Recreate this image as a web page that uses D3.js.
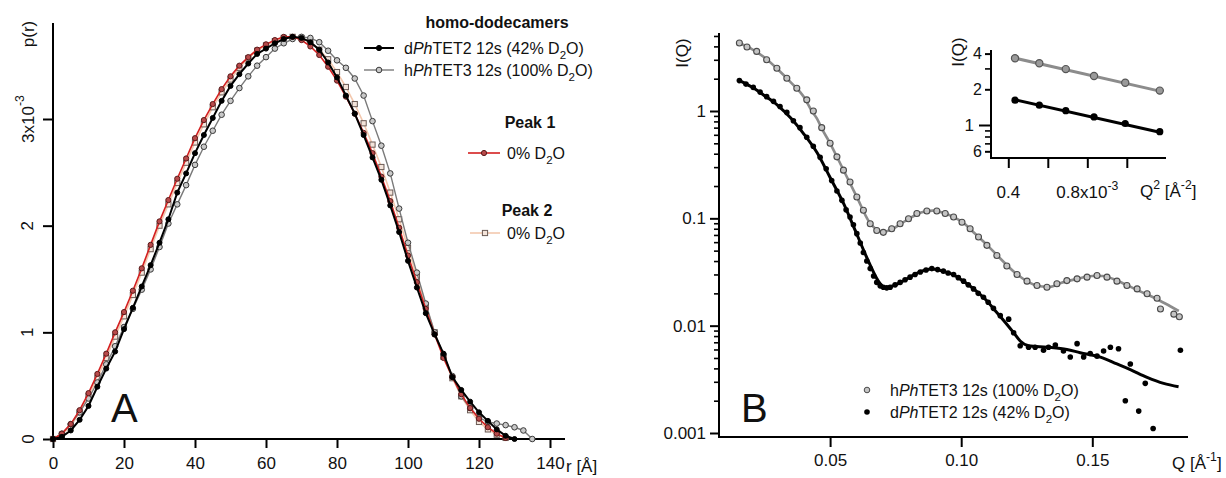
<!DOCTYPE html>
<html>
<head>
<meta charset="utf-8">
<script src="https://cdn.jsdelivr.net/npm/d3@7"></script>
<style>
  body { margin: 0; background: #fff; }
  svg { display: block; font-family: "Liberation Sans", Arial, sans-serif; }
</style>
</head>
<body>
<svg id="chart" width="1226" height="478"></svg>
<script>
// ---- panel A : p(r) ----
const rA = [0,2.5,5,7.5,10,12.5,15,17.5,20,22.5,25,27.5,30,32.5,35,37.5,40,42.5,45,47.5,50,52.5,55,57.5,60,62.5,65,67.5,70,72.5,75,77.5,80,82.5,85,87.5,90,92.5,95,97.5,100,102.5,105,107.5,110,112.5,115,117.5,120,122.5,125,127.5,130,132.5,135];
const pBlack = [0,0.02,0.08,0.18,0.31,0.49,0.66,0.82,1.03,1.23,1.43,1.63,1.84,2.06,2.31,2.49,2.68,2.85,3.01,3.17,3.31,3.42,3.52,3.61,3.66,3.71,3.75,3.77,3.76,3.72,3.65,3.53,3.39,3.22,3.05,2.85,2.64,2.43,2.19,1.94,1.67,1.42,1.18,0.98,0.80,0.58,0.46,0.35,0.25,0.17,0.09,0.03,0];
const pGray = [0,0.05,0.14,0.25,0.38,0.53,0.70,0.87,1.05,1.22,1.40,1.59,1.80,2.02,2.20,2.38,2.57,2.74,2.89,3.04,3.17,3.29,3.40,3.50,3.58,3.66,3.71,3.75,3.77,3.76,3.72,3.64,3.55,3.48,3.38,3.22,2.98,2.75,2.49,2.16,1.84,1.56,1.27,1.00,0.79,0.59,0.40,0.29,0.20,0.16,0.145,0.13,0.11,0.08,0];
const pPeak1 = [0,0.05,0.14,0.27,0.43,0.61,0.80,1.00,1.19,1.39,1.60,1.82,2.04,2.24,2.44,2.63,2.82,2.99,3.14,3.28,3.40,3.50,3.58,3.65,3.70,3.74,3.77,3.77,3.74,3.68,3.60,3.49,3.36,3.21,3.05,2.87,2.68,2.46,2.23,1.98,1.72,1.47,1.22,0.98,0.76,0.58,0.42,0.29,0.19,0.11,0.05,0.01];
const pPeak2 = [0,0.04,0.12,0.25,0.40,0.57,0.76,0.96,1.15,1.35,1.56,1.78,2.00,2.20,2.40,2.59,2.78,2.95,3.11,3.25,3.37,3.48,3.57,3.64,3.69,3.73,3.76,3.77,3.76,3.72,3.65,3.56,3.44,3.30,3.14,2.96,2.76,2.55,2.31,2.06,1.79,1.52,1.25,1.00,0.77,0.57,0.40,0.27,0.16,0.09,0.04,0.01];
const rTicks = [0,20,40,60,80,100,120,140];
const pTicks = [0,1,2,3];

// ---- panel B : I(Q) ----
const qGray = [0.0154,0.0183,0.0220,0.0258,0.0297,0.0335,0.0373,0.0411,0.0436,0.0468,0.0500,0.0526,0.0551,0.0576,0.0602,0.0627,0.0653,0.0678,0.0703,0.0735,0.0767,0.0799,0.0831,0.0869,0.0907,0.0939,0.0971,0.1003,0.1034,0.1066,0.1098,0.1136,0.1174,0.1213,0.1251,0.1289,0.1327,0.1365,0.1403,0.1442,0.1480,0.1518,0.1556,0.1594,0.1632,0.1671,0.1709,0.1747,0.1760,0.1811,0.1832];
const iGray = [4.30,3.95,3.59,3.00,2.50,2.02,1.63,1.27,1.00,0.70,0.50,0.374,0.281,0.218,0.158,0.119,0.089,0.077,0.074,0.080,0.089,0.099,0.111,0.117,0.117,0.111,0.103,0.092,0.080,0.067,0.056,0.045,0.036,0.030,0.026,0.0237,0.0228,0.0246,0.0263,0.0273,0.0283,0.0293,0.0283,0.0260,0.0237,0.0220,0.0198,0.0180,0.0143,0.0128,0.0121];
const qGrayFit = [0.0154,0.020,0.025,0.030,0.035,0.040,0.043,0.045,0.0468,0.050,0.055,0.060,0.065,0.070,0.0735,0.077,0.080,0.085,0.089,0.093,0.097,0.101,0.105,0.110,0.115,0.120,0.125,0.130,0.134,0.138,0.144,0.150,0.154,0.158,0.163,0.168,0.173,0.178,0.183];
const iGrayFit = [4.30,3.80,3.15,2.45,1.85,1.35,1.00,0.85,0.69,0.50,0.285,0.162,0.092,0.075,0.079,0.089,0.099,0.114,0.118,0.113,0.103,0.090,0.073,0.056,0.042,0.032,0.026,0.0233,0.0230,0.0250,0.0272,0.0290,0.0290,0.0272,0.0240,0.0210,0.0185,0.0160,0.0137];
const qBlack = [0.0154,0.0179,0.0207,0.0233,0.0258,0.0284,0.0309,0.0335,0.0360,0.0385,0.0411,0.0436,0.0462,0.0485,0.0506,0.0526,0.0545,0.0561,0.0576,0.0589,0.0602,0.0615,0.0627,0.0640,0.0653,0.0666,0.0678,0.0691,0.0703,0.0716,0.0729,0.0748,0.0767,0.0786,0.0805,0.0824,0.0844,0.0866,0.0888,0.0910,0.0932,0.0950,0.0971,0.0989,0.1009,0.1027,0.1047,0.1065,0.1085,0.1103,0.1123,0.1149,0.1181,0.1200,0.1225,0.1257,0.1282,0.1314,0.1333,0.1359,0.1390,0.1416,0.1442,0.1467,0.1492,0.1518,0.1543,0.1569,0.1600,0.1626,0.1645,0.1677,0.1702,0.1732,0.1836];
const iBlack = [1.92,1.78,1.66,1.50,1.36,1.23,1.10,0.97,0.81,0.70,0.57,0.47,0.37,0.29,0.225,0.18,0.147,0.120,0.103,0.087,0.072,0.059,0.048,0.040,0.034,0.029,0.0253,0.0235,0.0228,0.0225,0.0228,0.024,0.0253,0.0268,0.0283,0.030,0.0316,0.0330,0.034,0.0333,0.0322,0.031,0.030,0.028,0.026,0.024,0.022,0.020,0.0184,0.0165,0.0145,0.0124,0.0115,0.0086,0.0065,0.0063,0.0063,0.0059,0.0063,0.0066,0.0058,0.0051,0.0068,0.0051,0.0055,0.0052,0.0058,0.0063,0.0061,0.0020,0.0044,0.0016,0.0029,0.0011,0.0059];
const qBlackFit = [0.0154,0.020,0.025,0.030,0.035,0.040,0.045,0.050,0.055,0.060,0.065,0.068,0.071,0.074,0.078,0.082,0.086,0.089,0.093,0.097,0.101,0.105,0.109,0.113,0.117,0.120,0.1225,0.1257,0.1327,0.1403,0.1454,0.1531,0.1594,0.1645,0.1709,0.1772,0.1829];
const iBlackFit = [1.92,1.68,1.39,1.13,0.86,0.61,0.41,0.24,0.140,0.073,0.038,0.027,0.0226,0.0235,0.0262,0.0298,0.0328,0.0338,0.0322,0.0298,0.0258,0.0218,0.0178,0.0138,0.0106,0.0086,0.0072,0.0065,0.0063,0.0060,0.0056,0.0051,0.0044,0.0039,0.0033,0.0029,0.0027];
const qTicks = [0.05,0.10,0.15];
const iTicks = [0.001,0.01,0.1,1];

// ---- inset : Guinier ----
const q2Inset = [0.000434,0.000557,0.000691,0.000834,0.000992,0.001167];
const iInsetGray = [3.65,3.32,2.96,2.59,2.27,1.95];
const iInsetBlack = [1.62,1.47,1.32,1.17,1.03,0.878];
const q2InsetFit = [0.000434,0.001167];
const iInsetGrayFit = [3.66,1.93];
const iInsetBlackFit = [1.63,0.87];

const svg = d3.select("#chart");
const FS = 17;

// text with italic / sub / sup pieces
function rich(sel, parts, size) {
  let shift = 0;
  parts.forEach(([str, kind]) => {
    const t = sel.append("tspan").text(str);
    const target = kind === "sub" ? size * 0.3 : kind === "sup" ? -size * 0.45 : 0;
    t.attr("dy", target - shift);
    shift = target;
    if (kind === "sub" || kind === "sup") t.attr("font-size", size * 0.72);
    if (kind === "i") t.attr("font-style", "italic");
  });
  return sel;
}

// ================= panel A =================
const xA = d3.scaleLinear().domain([0, 140]).range([53, 550]);
const yA = d3.scaleLinear().domain([0, 3]).range([439, 119]);
const gA = svg.append("g");

gA.append("g").attr("transform", "translate(0,439)")
  .call(d3.axisBottom(xA).tickValues(rTicks).tickSize(9).tickFormat(d3.format("d")))
  .call(g => g.select(".domain").remove())
  .call(g => g.selectAll("line").attr("stroke", "#000").attr("stroke-width", 2))
  .call(g => g.selectAll("text").attr("font-size", FS).attr("fill", "#111").attr("dy", "1.05em"));
gA.append("g").attr("transform", "translate(53,0)")
  .call(d3.axisLeft(yA).tickValues(pTicks).tickSize(10).tickFormat(""))
  .call(g => g.select(".domain").remove())
  .call(g => g.selectAll("line").attr("stroke", "#000").attr("stroke-width", 2));
gA.append("line").attr("x1", 53).attr("x2", 565).attr("y1", 439).attr("y2", 439).attr("stroke", "#000").attr("stroke-width", 2);
gA.append("line").attr("x1", 53).attr("x2", 53).attr("y1", 440).attr("y2", 23).attr("stroke", "#000").attr("stroke-width", 2);

// rotated y labels
pTicks.forEach(v => {
  const t = gA.append("text").attr("x", 28).attr("y", yA(v)).attr("text-anchor", "middle")
    .attr("dominant-baseline", "central").attr("font-size", FS).attr("fill", "#111")
    .attr("transform", `rotate(-90,28,${yA(v)})`);
  if (v === 3) rich(t, [["3x10"], ["-3", "sup"]], FS);
  else t.text(v);
});
gA.append("text").attr("x", 28).attr("y", 34).attr("text-anchor", "middle").attr("dominant-baseline", "central")
  .attr("font-size", FS).attr("fill", "#111").attr("transform", "rotate(-90,28,34)").text("p(r)");
rich(gA.append("text").attr("x", 566).attr("y", 472).attr("font-size", FS).attr("fill", "#111"), [["r [Å]"]], FS);
gA.append("text").attr("x", 111).attr("y", 422).attr("font-size", 40).attr("fill", "#111").text("A");

const lineA = d3.line().x(d => xA(d[0])).y(d => yA(d[1]));
const pairs = arr => arr.map((v, i) => [rA[i], v]);

function seriesA(vals, o) {
  const pts = pairs(vals);
  gA.append("path").datum(pts).attr("d", lineA).attr("fill", "none")
    .attr("stroke", o.line).attr("stroke-width", o.lw);
  if (o.square) {
    gA.append("g").selectAll("rect").data(pts).join("rect")
      .attr("x", d => xA(d[0]) - 2.6).attr("y", d => yA(d[1]) - 2.6).attr("width", 5.2).attr("height", 5.2)
      .attr("fill", o.fill).attr("stroke", o.stroke).attr("stroke-width", 1);
  } else {
    gA.append("g").selectAll("circle").data(pts).join("circle")
      .attr("cx", d => xA(d[0])).attr("cy", d => yA(d[1])).attr("r", o.r)
      .attr("fill", o.fill).attr("stroke", o.stroke).attr("stroke-width", 1);
  }
}
seriesA(pPeak2, { line: "#f3c8ae", lw: 1.6, square: true, fill: "#f4e4da", stroke: "#6a5a55" });
seriesA(pGray, { line: "#7a7a7a", lw: 1.4, r: 2.8, fill: "#c8c8c8", stroke: "#3a3a3a" });
seriesA(pPeak1, { line: "#d42020", lw: 1.6, r: 2.6, fill: "#b84a4a", stroke: "#5a1a1a" });
seriesA(pBlack, { line: "#000", lw: 2, r: 2.5, fill: "#000", stroke: "#000" });

// legend A
const legA = svg.append("g").attr("font-size", 16).attr("fill", "#111");
legA.append("text").attr("x", 497).attr("y", 22).attr("text-anchor", "middle").attr("dominant-baseline", "central")
  .attr("font-weight", "bold").text("homo-dodecamers");
function legItem(x1, x2, y, tx, o, parts) {
  legA.append("line").attr("x1", x1).attr("x2", x2).attr("y1", y).attr("y2", y).attr("stroke", o.line).attr("stroke-width", o.lw);
  const cx = (x1 + x2) / 2;
  if (o.square) legA.append("rect").attr("x", cx - 2.6).attr("y", y - 2.6).attr("width", 5.2).attr("height", 5.2)
    .attr("fill", o.fill).attr("stroke", o.stroke);
  else legA.append("circle").attr("cx", cx).attr("cy", y).attr("r", o.r).attr("fill", o.fill).attr("stroke", o.stroke);
  rich(legA.append("text").attr("x", tx).attr("y", y + 6), parts, 16);
}
legItem(364, 394, 48, 404, { line: "#000", lw: 2, r: 2.6, fill: "#000", stroke: "#000" },
  [["d"], ["Ph", "i"], ["TET2 12s (42% D"], ["2", "sub"], ["O)"]]);
legItem(364, 394, 70, 404, { line: "#7a7a7a", lw: 1.4, r: 2.8, fill: "#c8c8c8", stroke: "#3a3a3a" },
  [["h"], ["Ph", "i"], ["TET3 12s (100% D"], ["2", "sub"], ["O)"]]);
legA.append("text").attr("x", 530).attr("y", 122).attr("text-anchor", "middle").attr("dominant-baseline", "central")
  .attr("font-weight", "bold").text("Peak 1");
legItem(468, 500, 153, 507, { line: "#d42020", lw: 1.6, r: 2.6, fill: "#b84a4a", stroke: "#5a1a1a" },
  [["0% D"], ["2", "sub"], ["O"]]);
legA.append("text").attr("x", 527).attr("y", 210).attr("text-anchor", "middle").attr("dominant-baseline", "central")
  .attr("font-weight", "bold").text("Peak 2");
legItem(470, 500, 233, 507, { line: "#f3c8ae", lw: 1.6, square: true, fill: "#f4e4da", stroke: "#6a5a55" },
  [["0% D"], ["2", "sub"], ["O"]]);

// ================= panel B =================
const xB = d3.scaleLinear().domain([0, 0.15]).range([699, 1092.3]);
const yB = d3.scaleLog().domain([0.001, 1]).range([433, 111]);
const gB = svg.append("g");

const minorB = [];
[0.001, 0.01, 0.1, 1].forEach(dec => [2,3,4,5,6,7,8,9].forEach(m => { if (dec * m <= 5.2) minorB.push(dec * m); }));
gB.append("g").attr("transform", "translate(719,0)")
  .call(d3.axisLeft(yB).tickValues(iTicks).tickSize(9).tickPadding(4).tickFormat(d => d3.format("~g")(d)))
  .call(g => g.select(".domain").remove())
  .call(g => g.selectAll("line").attr("stroke", "#000").attr("stroke-width", 2))
  .call(g => g.selectAll("text").attr("font-size", FS).attr("fill", "#111"));
gB.append("g").attr("transform", "translate(719,0)")
  .call(d3.axisLeft(yB).tickValues(minorB).tickSize(5).tickFormat(""))
  .call(g => g.select(".domain").remove())
  .call(g => g.selectAll("line").attr("stroke", "#000").attr("stroke-width", 1.6));
gB.append("g").attr("transform", "translate(0,437)")
  .call(d3.axisBottom(xB).tickValues(qTicks).tickSize(10).tickFormat(d3.format(".2f")))
  .call(g => g.select(".domain").remove())
  .call(g => g.selectAll("line").attr("stroke", "#000").attr("stroke-width", 2))
  .call(g => g.selectAll("text").attr("font-size", FS).attr("fill", "#111").attr("dy", "0.95em"));
gB.append("line").attr("x1", 718).attr("x2", 1188).attr("y1", 437).attr("y2", 437).attr("stroke", "#000").attr("stroke-width", 2);
gB.append("line").attr("x1", 719).attr("x2", 719).attr("y1", 438).attr("y2", 33).attr("stroke", "#000").attr("stroke-width", 2);

gB.append("text").attr("x", 682).attr("y", 53).attr("text-anchor", "middle").attr("dominant-baseline", "central")
  .attr("font-size", FS).attr("fill", "#111").attr("transform", "rotate(-90,682,53)").text("I(Q)");
rich(gB.append("text").attr("x", 1172).attr("y", 469).attr("font-size", FS).attr("fill", "#111"),
  [["Q [Å"], ["-1", "sup"], ["]"]], FS);
gB.append("text").attr("x", 741).attr("y", 422).attr("font-size", 40).attr("fill", "#111").text("B");

const lineB = d3.line().x(d => xB(d[0])).y(d => yB(d[1])).curve(d3.curveMonotoneX);
const zip = (a, b) => a.map((v, i) => [v, b[i]]);

gB.append("path").datum(zip(qGrayFit, iGrayFit)).attr("d", lineB).attr("fill", "none")
  .attr("stroke", "#8c8c8c").attr("stroke-width", 2.6);
gB.append("g").selectAll("circle").data(zip(qGray, iGray)).join("circle")
  .attr("cx", d => xB(d[0])).attr("cy", d => yB(d[1])).attr("r", 3)
  .attr("fill", "#c4c4c4").attr("stroke", "#4a4a4a").attr("stroke-width", 1.1);
gB.append("path").datum(zip(qBlackFit, iBlackFit)).attr("d", lineB).attr("fill", "none")
  .attr("stroke", "#000").attr("stroke-width", 3);
gB.append("g").selectAll("circle").data(zip(qBlack, iBlack)).join("circle")
  .attr("cx", d => xB(d[0])).attr("cy", d => yB(d[1])).attr("r", 2.8).attr("fill", "#000");

// legend B
const legB = svg.append("g").attr("font-size", 16).attr("fill", "#111");
legB.append("circle").attr("cx", 867).attr("cy", 390).attr("r", 2.8).attr("fill", "#c4c4c4").attr("stroke", "#4a4a4a");
rich(legB.append("text").attr("x", 890).attr("y", 396), [["h"], ["Ph", "i"], ["TET3 12s (100% D"], ["2", "sub"], ["O)"]], 16);
legB.append("circle").attr("cx", 867).attr("cy", 412).attr("r", 2.8).attr("fill", "#000");
rich(legB.append("text").attr("x", 890).attr("y", 418), [["d"], ["Ph", "i"], ["TET2 12s (42% D"], ["2", "sub"], ["O)"]], 16);

// ================= inset =================
const xI = d3.scaleLinear().domain([0.0004, 0.0008]).range([1008.3, 1087.3]);
const yI = d3.scaleLog().domain([1, 2]).range([125, 89.3]);
const gI = svg.append("g");

gI.append("g").attr("transform", "translate(991,0)")
  .call(d3.axisLeft(yI).tickValues([1]).tickSize(12).tickPadding(5).tickFormat(d3.format("d")))
  .call(g => g.select(".domain").remove())
  .call(g => g.selectAll("line").attr("stroke", "#000").attr("stroke-width", 2))
  .call(g => g.selectAll("text").attr("font-size", FS).attr("fill", "#111"));
gI.append("g").attr("transform", "translate(991,0)")
  .call(d3.axisLeft(yI).tickValues([0.6, 2, 4]).tickSize(6).tickPadding(3).tickFormat(d => d < 1 ? "6" : d))
  .call(g => g.select(".domain").remove())
  .call(g => g.selectAll("line").attr("stroke", "#000").attr("stroke-width", 2))
  .call(g => g.selectAll("text").attr("font-size", 16).attr("fill", "#111"));
gI.append("g").attr("transform", "translate(991,0)")
  .call(d3.axisLeft(yI).tickValues([0.7, 0.8, 0.9, 3]).tickSize(6).tickFormat(""))
  .call(g => g.select(".domain").remove())
  .call(g => g.selectAll("line").attr("stroke", "#000").attr("stroke-width", 1.6));
gI.append("g").attr("transform", "translate(0,158)")
  .call(d3.axisBottom(xI).tickValues([0.0004, 0.0006, 0.0008, 0.001]).tickSize(10).tickFormat(""))
  .call(g => g.select(".domain").remove())
  .call(g => g.selectAll("line").attr("stroke", "#000").attr("stroke-width", 2));
gI.append("line").attr("x1", 990).attr("x2", 1166).attr("y1", 158).attr("y2", 158).attr("stroke", "#000").attr("stroke-width", 2);
gI.append("line").attr("x1", 991).attr("x2", 991).attr("y1", 159).attr("y2", 50).attr("stroke", "#000").attr("stroke-width", 2);

gI.append("text").attr("x", xI(0.0004)).attr("y", 198).attr("text-anchor", "middle").attr("font-size", FS).attr("fill", "#111").text("0.4");
rich(gI.append("text").attr("x", xI(0.0008)).attr("y", 198).attr("text-anchor", "middle").attr("font-size", FS).attr("fill", "#111"),
  [["0.8x10"], ["-3", "sup"]], FS);
rich(gI.append("text").attr("x", 1140).attr("y", 197).attr("font-size", FS).attr("fill", "#111"),
  [["Q"], ["2", "sup"], [" [Å"], ["-2", "sup"], ["]"]], FS);
gI.append("text").attr("x", 958).attr("y", 52).attr("text-anchor", "middle").attr("dominant-baseline", "central")
  .attr("font-size", FS).attr("fill", "#111").attr("transform", "rotate(-90,958,52)").text("I(Q)");

const lineI = d3.line().x(d => xI(d[0])).y(d => yI(d[1]));
gI.append("path").datum(zip(q2InsetFit, iInsetGrayFit)).attr("d", lineI).attr("stroke", "#8c8c8c").attr("stroke-width", 3).attr("fill", "none");
gI.append("g").selectAll("circle").data(zip(q2Inset, iInsetGray)).join("circle")
  .attr("cx", d => xI(d[0])).attr("cy", d => yI(d[1])).attr("r", 3.6).attr("fill", "#9a9a9a").attr("stroke", "#555").attr("stroke-width", 1.2);
gI.append("path").datum(zip(q2InsetFit, iInsetBlackFit)).attr("d", lineI).attr("stroke", "#000").attr("stroke-width", 3).attr("fill", "none");
gI.append("g").selectAll("circle").data(zip(q2Inset, iInsetBlack)).join("circle")
  .attr("cx", d => xI(d[0])).attr("cy", d => yI(d[1])).attr("r", 3.6).attr("fill", "#000");
</script>
</body>
</html>
